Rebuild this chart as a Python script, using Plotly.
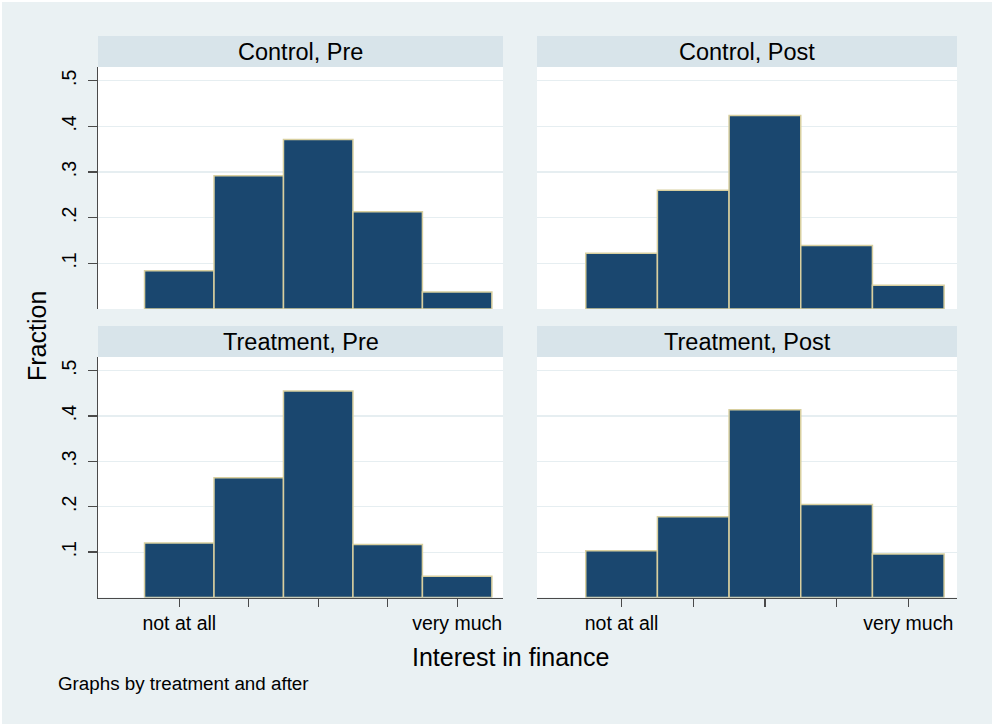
import plotly.graph_objects as go

# ---- data ----
categories = [1, 2, 3, 4, 5]
tick_labels = ["not at all", "", "", "", "very much"]
y_ticks = [0.1, 0.2, 0.3, 0.4, 0.5]
y_tick_labels = [".1", ".2", ".3", ".4", ".5"]

panel_titles = ["Control, Pre", "Control, Post", "Treatment, Pre", "Treatment, Post"]
control_pre = [0.084, 0.292, 0.371, 0.213, 0.037]
control_post = [0.122, 0.260, 0.424, 0.139, 0.052]
treatment_pre = [0.120, 0.264, 0.455, 0.117, 0.047]
treatment_post = [0.103, 0.178, 0.414, 0.205, 0.096]

W, H = 992, 724
BG = "#eaf1f3"
STRIP = "#d8e4ea"
BAR = "#1a476f"
BAR_LINE = "#d8cf9f"
GRID = "#e6eef1"
AXIS = "#4a4a4a"
FONT = "Liberation Sans, Arial, sans-serif"

def px_x(v):
    return v / W

def px_y(v):
    return 1 - v / H

# panel geometry in pixels
cols = [(98, 503), (537, 957)]
rows = [(67, 309), (357, 597.5)]
strips = [(36, 67), (326, 357)]
xranges = [[-0.17, 5.66], [-0.18, 5.68]]

series = [control_pre, control_post, treatment_pre, treatment_post]

fig = go.Figure()
layout = dict(
    width=W, height=H,
    margin=dict(l=0, r=0, t=0, b=0),
    paper_bgcolor=BG, plot_bgcolor="white",
    showlegend=False, bargap=0,
    font=dict(family=FONT, color="black"),
)
shapes = []
annotations = []

for i in range(4):
    r, c = divmod(i, 2)
    n = "" if i == 0 else str(i + 1)
    xa, ya = "xaxis" + n, "yaxis" + n
    fig.add_trace(go.Bar(
        x=categories, y=series[i], width=1,
        marker=dict(color=BAR, line=dict(color=BAR_LINE, width=1.5)),
        xaxis="x" + n, yaxis="y" + n, hoverinfo="skip",
    ))
    bottom = r == 1
    left = c == 0
    layout[xa] = dict(
        domain=[px_x(cols[c][0]), px_x(cols[c][1])],
        anchor="y" + n, range=xranges[c],
        tickmode="array", tickvals=categories,
        ticktext=tick_labels if bottom else [""] * 5,
        ticks="outside" if bottom else "", ticklen=8, tickwidth=1.3, tickcolor=AXIS,
        showticklabels=bottom,
        tickfont=dict(size=19.5, family=FONT, color="black"),
        showline=bottom, linecolor=AXIS, linewidth=1.5,
        showgrid=False, zeroline=False, fixedrange=True,
    )
    layout[ya] = dict(
        domain=[px_y(rows[r][1]), px_y(rows[r][0])],
        anchor="x" + n, range=[0, 0.53],
        tickmode="array", tickvals=y_ticks, ticktext=y_tick_labels,
        ticks="outside" if left else "", ticklen=9, tickwidth=1.3, tickcolor=AXIS,
        showticklabels=left, tickangle=-90,
        tickfont=dict(size=19.5, family=FONT, color="black"),
        ticklabelstandoff=4,
        showline=left, linecolor=AXIS, linewidth=1.5,
        showgrid=True, gridcolor=GRID, gridwidth=1.2,
        zeroline=False, fixedrange=True,
    )
    # strip
    shapes.append(dict(
        type="rect", xref="paper", yref="paper",
        x0=px_x(cols[c][0]), x1=px_x(cols[c][1]),
        y0=px_y(strips[r][1]), y1=px_y(strips[r][0]),
        fillcolor=STRIP, line=dict(width=0), layer="below",
    ))
    annotations.append(dict(
        text=panel_titles[i], xref="paper", yref="paper",
        x=px_x((cols[c][0] + cols[c][1]) / 2),
        y=px_y((strips[r][0] + strips[r][1]) / 2),
        xanchor="center", yanchor="middle", showarrow=False,
        font=dict(size=23.5, family=FONT, color="black"),
    ))

# white edge at top and left of the image
shapes.append(dict(type="rect", xref="paper", yref="paper", x0=0, x1=1,
                   y0=1 - 2 / H, y1=1, fillcolor="white", line=dict(width=0)))
shapes.append(dict(type="rect", xref="paper", yref="paper", x0=0, x1=2 / W,
                   y0=0, y1=1, fillcolor="white", line=dict(width=0)))

annotations += [
    dict(text="Fraction", xref="paper", yref="paper", x=px_x(37), y=px_y(336),
         xanchor="center", yanchor="middle", textangle=-90, showarrow=False,
         font=dict(size=25, family=FONT, color="black")),
    dict(text="Interest in finance", xref="paper", yref="paper", x=px_x(510), y=px_y(657),
         xanchor="center", yanchor="middle", showarrow=False,
         font=dict(size=25, family=FONT, color="black")),
    dict(text="Graphs by treatment and after", xref="paper", yref="paper", x=px_x(56), y=px_y(683),
         xanchor="left", yanchor="middle", showarrow=False,
         font=dict(size=18.8, family=FONT, color="black")),
]
layout["shapes"] = shapes
layout["annotations"] = annotations
fig.update_layout(**layout)
fig.write_html(
    "out.html",
    config={"displayModeBar": False, "staticPlot": True},
    post_script="document.body.style.margin='0';document.body.style.overflow='hidden';",
)
